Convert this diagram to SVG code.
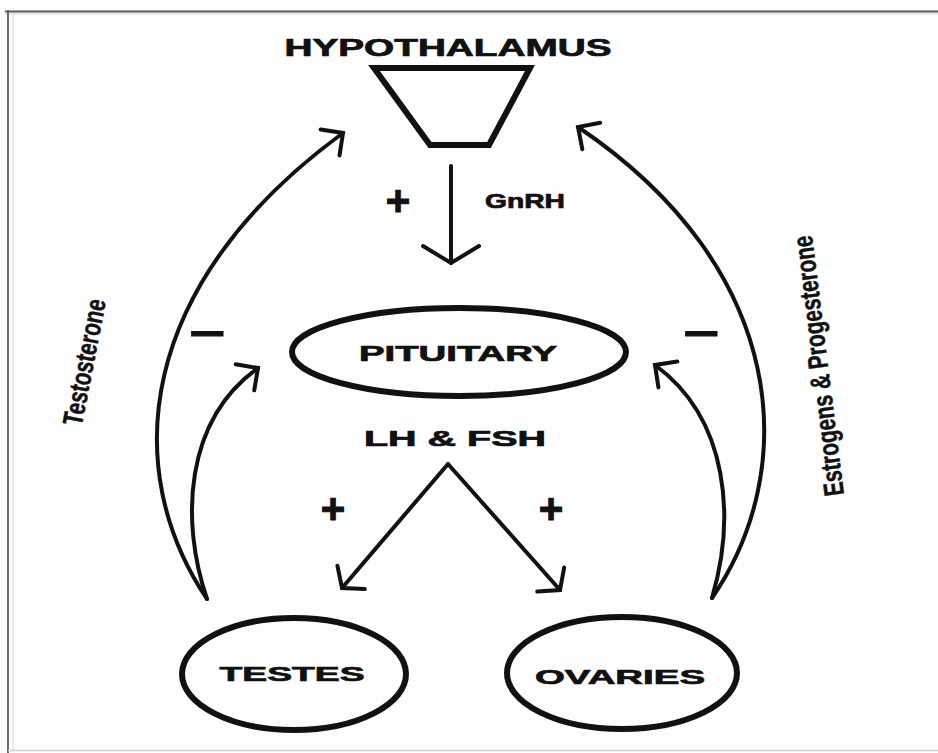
<svg xmlns="http://www.w3.org/2000/svg" width="938" height="753" viewBox="0 0 938 753">
<style>
.lbl{font-family:"Liberation Sans",Arial,sans-serif;font-weight:bold;fill:#111;stroke:#111;stroke-width:0.7;text-anchor:middle}
.side{font-family:"Liberation Sans",Arial,sans-serif;font-weight:bold;fill:#111;stroke:#111;stroke-width:0.5;text-anchor:middle}
.sym{font-family:"Liberation Sans",Arial,sans-serif;font-weight:bold;fill:#111;stroke:#111;stroke-width:1;text-anchor:middle}
.shape{fill:none;stroke:#111;stroke-width:6}
.conn{fill:none;stroke:#111;stroke-width:4;stroke-linecap:round}
.head{fill:none;stroke:#111;stroke-width:4;stroke-linecap:round;stroke-linejoin:miter}
</style>
<defs>
<marker id="curveHead" markerUnits="userSpaceOnUse" orient="auto" refX="0" refY="0" markerWidth="60" markerHeight="60" viewBox="-30 -30 60 60" overflow="visible">
<path class="head" d="M-16,-16 L0,0 L-16,16"/>
</marker>
<marker id="gnrhHead" markerUnits="userSpaceOnUse" orient="auto" refX="0" refY="0" markerWidth="80" markerHeight="80" viewBox="-40 -40 80 80" overflow="visible">
<path class="head" d="M-17,-28 L0,0 L-17,28"/>
</marker>
<marker id="lhHead" markerUnits="userSpaceOnUse" orient="auto" refX="0" refY="0" markerWidth="60" markerHeight="60" viewBox="-30 -30 60 60" overflow="visible">
<path class="head" d="M-14,-18 L0,0 L-14,18"/>
</marker>
</defs>
<rect x="0" y="0" width="938" height="753" fill="#fdfdfd"/>
<g id="frame">
<line x1="5" y1="11.5" x2="938" y2="11.5" stroke="#5a5a5a" stroke-width="2"/>
<line x1="5" y1="14" x2="938" y2="14" stroke="#d6d6d6" stroke-width="1"/>
<line x1="8" y1="10" x2="8" y2="753" stroke="#6a6a6a" stroke-width="2"/>
<line x1="13" y1="14" x2="13" y2="750" stroke="#d0d8dc" stroke-width="1"/>
<line x1="8" y1="750.5" x2="938" y2="750.5" stroke="#cfcfcf" stroke-width="1.5"/>
</g>
<g id="hypothalamus">
<text class="lbl" x="448" y="56" font-size="23" textLength="327" lengthAdjust="spacingAndGlyphs">HYPOTHALAMUS</text>
<polygon class="shape" points="374,68 530,68 489,145 430,145" stroke-width="7" stroke-linejoin="miter"/>
</g>
<g id="pituitary">
<ellipse class="shape" cx="459" cy="352" rx="167" ry="44"/>
<text class="lbl" x="458" y="361" font-size="22" textLength="198" lengthAdjust="spacingAndGlyphs">PITUITARY</text>
</g>
<g id="testes">
<ellipse class="shape" cx="294" cy="674" rx="112" ry="56"/>
<text class="lbl" x="292" y="681" font-size="21" textLength="145" lengthAdjust="spacingAndGlyphs">TESTES</text>
</g>
<g id="ovaries">
<ellipse class="shape" cx="622" cy="673" rx="115" ry="56"/>
<text class="lbl" x="620" y="684" font-size="21" textLength="170" lengthAdjust="spacingAndGlyphs">OVARIES</text>
</g>
<g id="connectors">
<line class="conn" x1="451" y1="166" x2="451" y2="263" marker-end="url(#gnrhHead)"/>
<path class="conn" d="M448,464 L342,588" marker-end="url(#lhHead)"/>
<path class="conn" d="M448,464 L560,590" marker-end="url(#lhHead)"/>
<path class="conn" d="M207,599 C120,470 135,285 343,133" marker-end="url(#curveHead)"/>
<path class="conn" d="M207,599 C180,520 185,420 258,368" marker-end="url(#curveHead)"/>
<path class="conn" d="M712,598 C800,470 790,270 578,127" marker-end="url(#curveHead)"/>
<path class="conn" d="M712,598 C735,520 730,420 655,365" marker-end="url(#curveHead)"/>
</g>
<g id="labels">
<text class="lbl" x="525" y="208" font-size="20" textLength="80" lengthAdjust="spacingAndGlyphs">GnRH</text>
<text class="lbl" x="455" y="446" font-size="22" textLength="182" lengthAdjust="spacingAndGlyphs">LH &amp; FSH</text>
<text class="sym" x="398" y="215" font-size="42">+</text>
<text class="sym" x="333" y="523" font-size="42">+</text>
<text class="sym" x="551" y="523" font-size="42">+</text>
<text class="sym" x="207" y="347" font-size="40" textLength="36" lengthAdjust="spacingAndGlyphs">−</text>
<text class="sym" x="701" y="347" font-size="40" textLength="36" lengthAdjust="spacingAndGlyphs">−</text>
<text class="side" transform="translate(84,362) rotate(-79)" x="0" y="10" font-size="28" textLength="128" lengthAdjust="spacingAndGlyphs">Testosterone</text>
<text class="side" transform="translate(818,366) rotate(-97)" x="0" y="10" font-size="28" textLength="262" lengthAdjust="spacingAndGlyphs">Estrogens &amp; Progesterone</text>
</g>
</svg>
